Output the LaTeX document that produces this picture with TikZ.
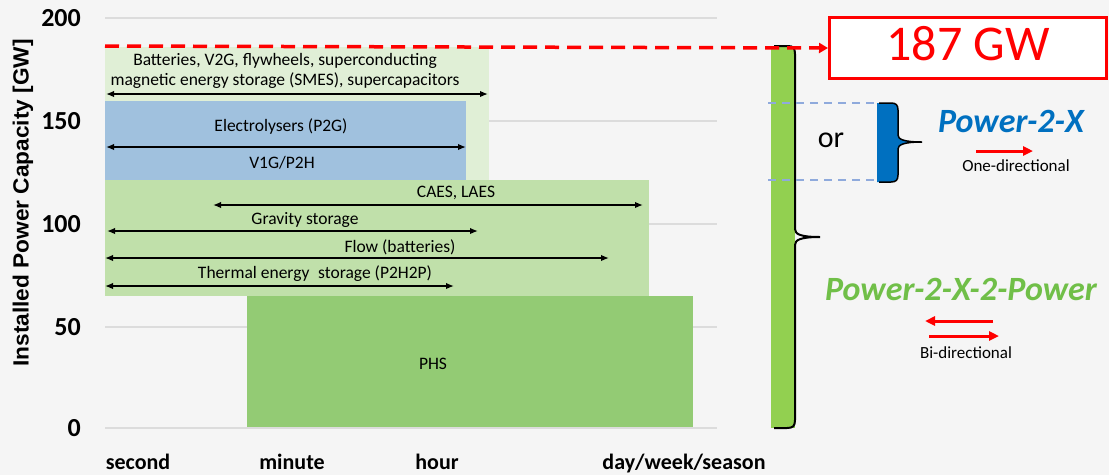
\documentclass[tikz,border=0pt]{standalone}
\usepackage{fontspec}
\usepackage{graphicx}
\setmainfont{Carlito}
\newfontfamily\titlefont{Liberation Sans}
\usetikzlibrary{arrows.meta}
\definecolor{bgc}{HTML}{F5F5F5}
\definecolor{gridc}{HTML}{DCDCDC}
\definecolor{palegreen}{HTML}{E0EFD6}
\definecolor{boxblue}{HTML}{A0C1DE}
\definecolor{midgreen}{HTML}{C0E0AA}
\definecolor{phsgreen}{HTML}{93CB74}
\definecolor{bargreen}{HTML}{92D050}
\definecolor{braceblue}{HTML}{0070C0}
\definecolor{dashblue}{HTML}{8FAADC}
\definecolor{ptxgreen}{HTML}{70BF48}
\definecolor{redc}{HTML}{FF0000}
\begin{document}
\begin{tikzpicture}[x=1pt,y=-1pt,
  lbl/.style={font=\fontsize{17.5}{20}\selectfont, inner sep=0pt, align=center},
  dbl/.style={line width=1.5pt, {Latex[length=8pt,width=6.5pt]}-{Latex[length=8pt,width=6.5pt]}},
  tick/.style={font=\bfseries\fontsize{26}{30}\selectfont, anchor=east, inner sep=0pt},
  xlab/.style={font=\bfseries\fontsize{22}{26}\selectfont, anchor=base, inner sep=0pt},
  gridline/.style={draw=gridc, line width=1.5pt},
  redarrow/.style={draw=redc, line width=3pt, -{Triangle[length=10pt,width=9pt]}},
  bluedash/.style={draw=dashblue, line width=1.5pt, dash pattern=on 8pt off 6pt},
  brace/.style={draw=black, line width=2pt},
  small/.style={font=\fontsize{17}{20}\selectfont, inner sep=0pt}]
\path[fill=bgc] (0,0) rectangle (1109,475);
\useasboundingbox (0,0) rectangle (1109,475);
% gridlines
\foreach \yy in {18,121,224,327,428} \draw[gridline] (105,\yy) -- (717,\yy);
% tick labels
\node[tick] (t200) at (81,18) {200};
\node[tick] (t150) at (81,121) {150};
\node[tick] (t100) at (81,224) {100};
\node[tick] (t50) at (81,327) {50};
\node[tick] (t0) at (81,428) {0};
% axis title
\node[rotate=90, inner sep=0pt, font=\titlefont\bfseries\fontsize{22}{26}\selectfont] (ytitle) at (23,203) {\scalebox{1.03}[1]{Installed Power Capacity [GW]}};
% x labels
\node[xlab] (xsec) at (138,469) {second};
\node[xlab] (xmin) at (292,469) {minute};
\node[xlab] (xhour) at (437,469) {hour};
\node[xlab] (xday) at (684,469) {day/week/season};
% bands
\fill[palegreen] (105,47) rectangle (489,180);
\fill[boxblue] (105,101) rectangle (466,180);
\fill[midgreen] (105,180) rectangle (649,296);
\fill[phsgreen] (247,296) rectangle (693,427);
% labels and arrows
\node[lbl] (batt) at (285,71) {Batteries, V2G, flywheels, superconducting\\magnetic energy storage (SMES), supercapacitors};
\coordinate (battL) at (106,94); \coordinate (battR) at (488,94);
\draw[dbl] (battL) -- (battR);
\node[lbl] (elec) at (281,127) {Electrolysers (P2G)};
\coordinate (elecL) at (106,147); \coordinate (elecR) at (466,147);
\draw[dbl] (elecL) -- (elecR);
\node[lbl] (v1g) at (282,163) {V1G/P2H};
\node[lbl] (caes) at (456,193) {CAES, LAES};
\coordinate (caesL) at (213,205); \coordinate (caesR) at (643,205);
\draw[dbl] (caesL) -- (caesR);
\node[lbl] (grav) at (305,220) {Gravity storage};
\coordinate (gravL) at (107,231); \coordinate (gravR) at (478,231);
\draw[dbl] (gravL) -- (gravR);
\node[lbl] (flow) at (400,247) {Flow (batteries)};
\coordinate (flowL) at (105,258); \coordinate (flowR) at (609,258);
\draw[dbl] (flowL) -- (flowR);
\node[lbl] (therm) at (315,274) {Thermal energy\hspace{0.5em}storage (P2H2P)};
\coordinate (thermL) at (105,286); \coordinate (thermR) at (454,286);
\draw[dbl] (thermL) -- (thermR);
\node[lbl] (phs) at (433,364) {PHS};
% green bar and brace
\fill[bargreen] (771,46) rectangle (795,428);
\draw[brace] (774,46) -- (788,46) .. controls (793,46) and (795,48) .. (795,54) -- (795,229) .. controls (795,234) and (800,237) .. (820,237) .. controls (800,237) and (795,240) .. (795,245) -- (795,420) .. controls (795,426) and (793,428) .. (787,428) -- (774,428);
% 187 GW
\node[draw=redc, line width=3pt, fill=white, minimum width=277pt, minimum height=61pt, text depth=10pt, inner sep=0pt, text=redc, font=\fontsize{50}{56}\selectfont] (gw) at (968,48) {187 GW};
\coordinate (dstart) at (105,46);
\draw[draw=redc, line width=3.5pt, dash pattern=on 14pt off 8pt, -{Triangle[length=9pt,width=10pt]}] (dstart) -- (gw.west);
% blue dashed lines and or
\coordinate (bd1a) at (768,103); \coordinate (bd1b) at (875,103);
\coordinate (bd2a) at (768,180); \coordinate (bd2b) at (875,180);
\draw[bluedash] (bd1a) -- (bd1b);
\draw[bluedash] (bd2a) -- (bd2b);
\node[inner sep=0pt, font=\fontsize{30}{34}\selectfont] (or) at (831,140) {or};
% blue brace
\fill[braceblue] (877,103) -- (891,103) .. controls (896,103) and (898,105) .. (898,110) -- (898,135) .. controls (898,139) and (903,142) .. (922,142) .. controls (903,142) and (898,145) .. (898,149) -- (898,175) .. controls (898,180) and (896,182) .. (891,182) -- (877,182) -- cycle;
\draw[draw=black, line width=1.5pt] (879,103) -- (891,103) .. controls (896,103) and (898,105) .. (898,110) -- (898,135) .. controls (898,139) and (903,142) .. (922,142) .. controls (903,142) and (898,145) .. (898,149) -- (898,175) .. controls (898,180) and (896,182) .. (891,182) -- (879,182);
% Power-2-X
\node[inner sep=0pt, text=braceblue, font=\bfseries\itshape\fontsize{34}{40}\selectfont] (p2x) at (1011,121) {Power-2-X};
\coordinate (oneL) at (976,151); \coordinate (oneR) at (1033,151);
\draw[redarrow] (oneL) -- (oneR);
\node[small] (onedir) at (1016,166) {One-directional};
% Power-2-X-2-Power
\node[inner sep=0pt, text=ptxgreen, font=\bfseries\itshape\fontsize{34}{40}\selectfont] (p2x2p) at (961,289) {Power-2-X-2-Power};
\coordinate (biLs) at (993,321); \coordinate (biLe) at (925,321);
\draw[redarrow] (biLs) -- (biLe);
\coordinate (biRs) at (929,336); \coordinate (biRe) at (999,336);
\draw[redarrow] (biRs) -- (biRe);
\node[small] (bidir) at (966,353) {Bi-directional};
\end{tikzpicture}
\end{document}
